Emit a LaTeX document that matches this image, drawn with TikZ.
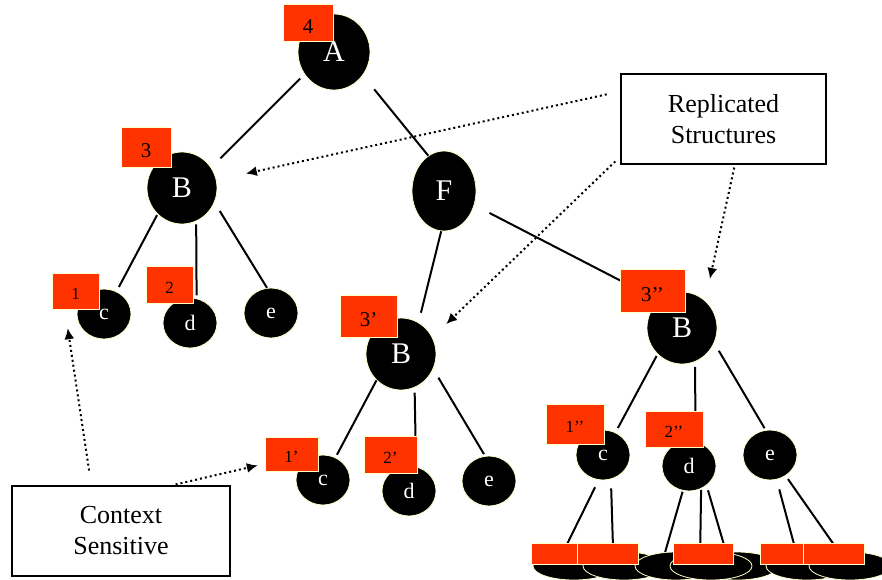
\documentclass[tikz,border=0pt]{standalone}
\usepackage{fontspec}
\setmainfont{Liberation Serif}
\usetikzlibrary{shapes.geometric,arrows.meta,positioning}
\definecolor{tagred}{RGB}{255,51,0}
\definecolor{rim}{RGB}{255,255,204}
\tikzset{%
      vertex/.style={ellipse, draw=rim, line width=0.8pt, fill=black, text=white, inner sep=0pt, font=\fontsize{30}{32}\selectfont},
      upper/.style={vertex, minimum width=70pt, minimum height=72pt},
      lower/.style={vertex, minimum width=54pt, minimum height=50pt, font=\fontsize{22}{24}\selectfont},
      leaf/.style={vertex, minimum width=82pt, minimum height=28pt},
      tag/.style={draw=rim, line width=0.8pt, fill=tagred, inner sep=0pt, text height=21pt, text depth=0pt, font=\fontsize{21}{22}\selectfont},
      smalltag/.style={tag, text height=17pt, font=\fontsize{17}{18}\selectfont},
      note/.style={draw, line width=1.3pt, align=center, minimum width=205pt, minimum height=90pt, font=\fontsize{26}{31}\selectfont},
      branch/.style={draw, line width=2pt},
      pointer/.style={draw, line width=2pt, dash pattern=on 2pt off 3pt, -{Latex[length=11pt,width=10pt]}},
    }
\newcommand{\treenode}[3]{node (#1) [#2] {#3}}
\newcommand{\tagbox}[5]{node (#1) [#2, minimum width=#3pt, minimum height=#4pt] {#5}}

\begin{document}
\begin{tikzpicture}[x=1pt, y=-1pt]
      \clip (0,0) rectangle (882,579);

      % Draw tree nodes
      \path (334,52) \treenode{A}{upper, minimum width=72pt, minimum height=76pt}{A};
      \path (182,188) \treenode{B1}{upper}{B};
      \path (444,191) \treenode{F}{upper, minimum width=64pt, minimum height=80pt}{F};
      \path (104,314) \treenode{c1}{lower}{c};
      \path (190,323) \treenode{d1}{lower}{d};
      \path (271,313) \treenode{e1}{lower}{e};

      \path (401,354) \treenode{B2}{upper}{B};
      \path (323,480) \treenode{c2}{lower}{c};
      \path (409,491) \treenode{d2}{lower}{d};
      \path (489,481) \treenode{e2}{lower}{e};

      \path (682,328) \treenode{B3}{upper}{B};
      \path (603,455) \treenode{c3}{lower}{c};
      \path (689,466) \treenode{d3}{lower}{d};
      \path (770,455) \treenode{e3}{lower}{e};

      % Leaves along the bottom edge
      \path (574,566) \treenode{cc1}{leaf}{};
      \path (624,566) \treenode{cc2}{leaf}{};
      \path (676,566) \treenode{dd1}{leaf}{};
      \path (737,566) \treenode{dd3}{leaf}{};
      \path (711,566) \treenode{dd2}{leaf}{};
      \path (807,566) \treenode{ee1}{leaf}{};
      \path (850,566) \treenode{ee2}{leaf}{};

      % Draw branches
      \path [branch, shorten <=6pt, shorten >=13pt] (A.217) -- (B1.35);
      \path [branch, shorten <=18pt] (A.321) -- (F.114);
      \path [branch, shorten <=1pt, shorten >=5pt] (B1.227) -- (c1.61);
      \path [branch, shorten <=3pt, shorten >=3pt] (B1.293) -- (d1.75);
      \path [branch, shorten <=10pt] (B1.336) -- (e1.99);
      \path [branch, shorten >=10pt] (F.266) -- (B2.61);
      \path [branch, shorten <=17pt] (F.335) -- (B3.130);
      \path [branch, shorten >=3pt] (B2.227) -- (c2.61);
      \path [branch, shorten <=5pt] (B2.292) -- (d2.74);
      \path [branch, shorten <=10pt, shorten >=2pt] (B2.335) -- (e2.99);
      \path [branch, shorten <=2pt, shorten >=5pt] (B3.227) -- (c3.61);
      \path [branch, shorten <=5pt] (B3.291) -- (d3.75);
      \path [branch, shorten <=9pt, shorten >=2pt] (B3.335) -- (e3.100);

      \path [branch, shorten <=8pt] (c3.260) -- (cc1.128);
      \path [branch, shorten <=9pt] (c3.288) -- (cc2.128);
      \path [branch, shorten <=1pt] (d3.256) -- (dd1.128);
      \path [branch, shorten <=1pt] (d3.298) -- (dd2.128);
      \path [branch, shorten <=5pt] (d3.312) -- (dd3.128);
      \path [branch, shorten <=10pt] (e3.285) -- (ee1.128);
      \path [branch, shorten <=4pt] (e3.307) -- (ee2.128);

      % Draw tags
      \path (A)+(-26,-29) \tagbox{t4}{tag}{50}{37}{4};
      \path (B1)+(-36,-41) \tagbox{t3}{tag}{50}{40}{3};
      \path (c1)+(-28.5,-23) \tagbox{t1}{smalltag}{47}{36}{1};
      \path (d1)+(-20.5,-38.5) \tagbox{t2}{smalltag}{47}{37}{2};
      \path (B2)+(-32.5,-38) \tagbox{t3p}{tag}{57}{42}{3’};
      \path (c2)+(-31.5,-26) \tagbox{t1p}{smalltag}{53}{34}{1’};
      \path (d2)+(-18.5,-36.5) \tagbox{t2p}{smalltag}{53}{37}{2’};
      \path (B3)+(-29.5,-37.5) \tagbox{t3pp}{tag}{65}{43}{3’’};
      \path (c3)+(-28,-31) \tagbox{t1pp}{smalltag}{58}{40}{1’’};
      \path (d3)+(-15,-37) \tagbox{t2pp}{smalltag}{58}{36}{2’’};

      \path (cc1)+(-12.5,-12) \tagbox{r1}{tag}{61}{20}{};
      \path (cc2)+(-16.5,-12) \tagbox{r2}{tag}{61}{20}{};
      \path (dd2)+(-7.5,-12) \tagbox{r3}{tag}{60}{20}{};
      \path (ee1)+(-16.5,-12) \tagbox{r4}{tag}{61}{20}{};
      \path (ee2)+(-16.5,-12) \tagbox{r5}{tag}{61}{20}{};

      % Notes and pointers
      \path (723.5,119) node (rep) [note] {Replicated\\Structures};
      \path (121,531) node (ctx) [note, minimum width=218pt] {Context\\Sensitive};

      \path [pointer, shorten <=14pt, shorten >=30pt] (rep.165) -- (B1.13);
      \path [pointer, shorten <=7pt, shorten >=19pt] (rep.200) -- (B2.28);
      \path [pointer, shorten <=3pt, shorten >=22pt] (rep.284) -- (B3.50);
      \path [pointer, shorten <=15pt, shorten >=19pt] (ctx.123) -- (t1.240);
      \path [pointer, shorten <=4pt, shorten >=7pt] (ctx.42) -- (t1p.200);

    \end{tikzpicture}
\end{document}
